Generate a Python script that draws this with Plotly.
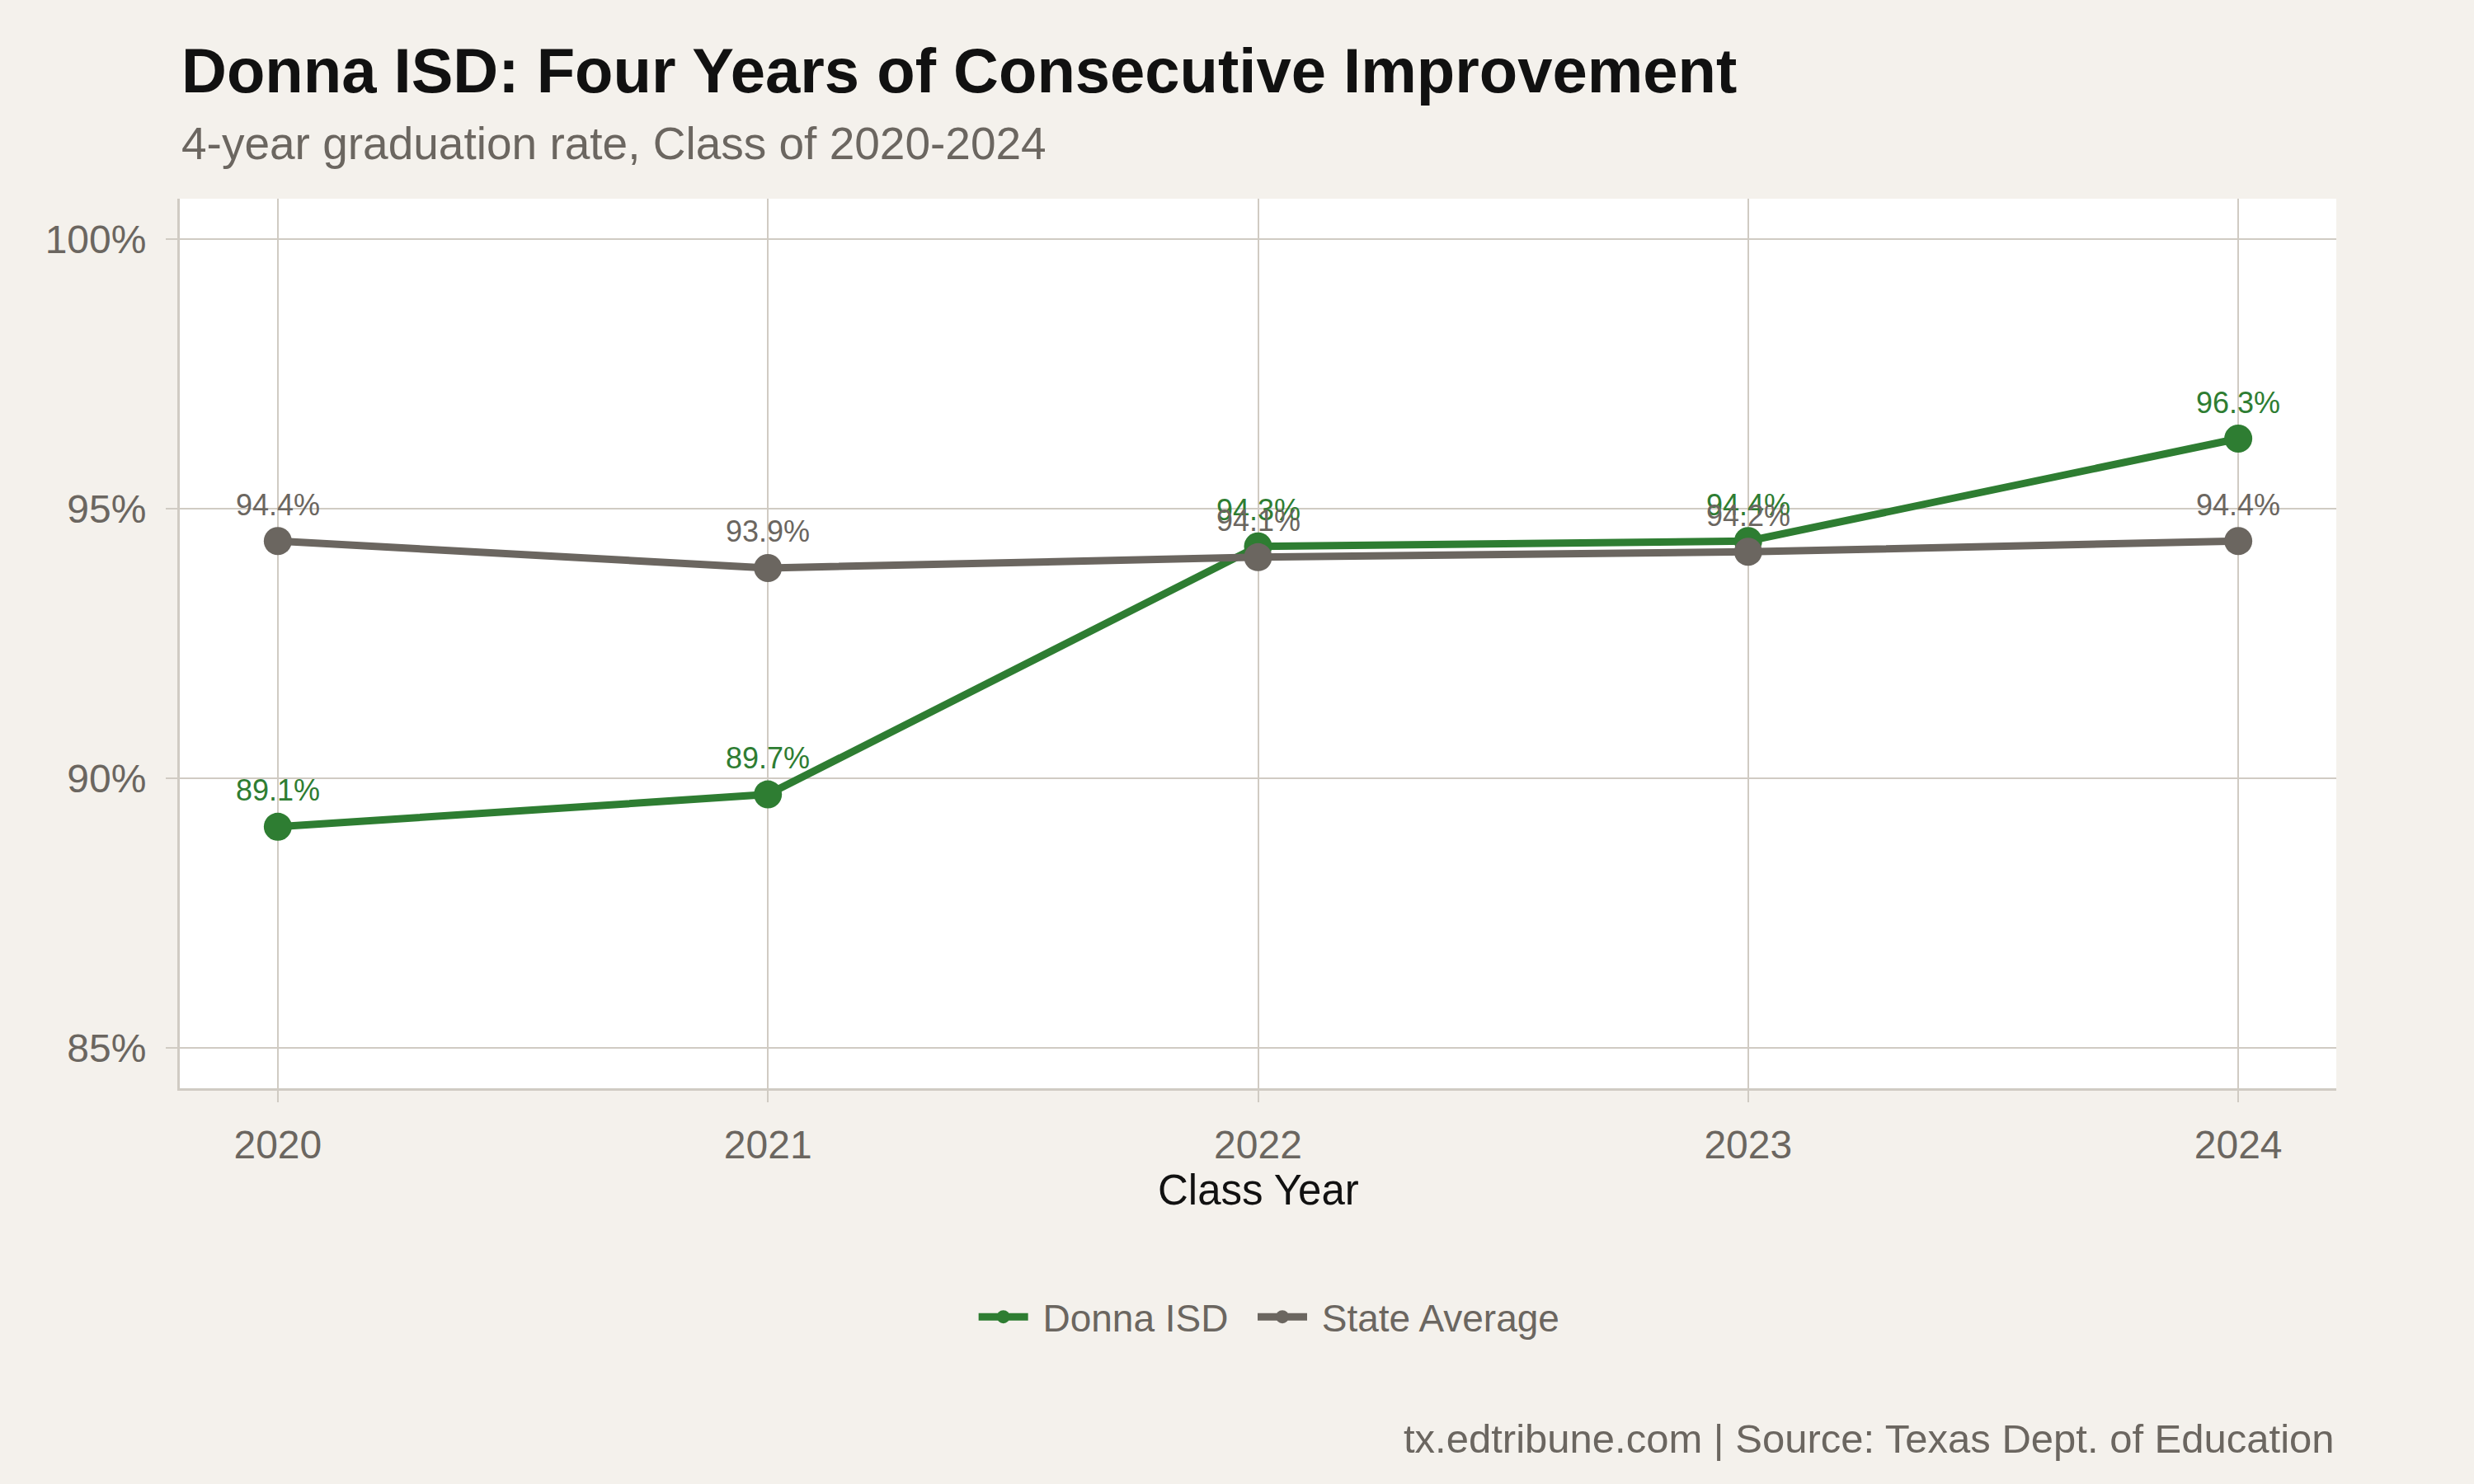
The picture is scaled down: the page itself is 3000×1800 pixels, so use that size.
import plotly.graph_objects as go

years = [2020, 2021, 2022, 2023, 2024]
donna = [89.1, 89.7, 94.3, 94.4, 96.3]
state = [94.4, 93.9, 94.1, 94.2, 94.4]
y_ticks = [85, 90, 95, 100]
y_tick_labels = ["85%", "90%", "95%", "100%"]

GREEN = "#2e7d32"
GRAY = "#6b6660"
GRID = "#d0cbc3"
PAPER = "#f4f1ec"
FONT = "Liberation Sans, Arial, Helvetica, sans-serif"
NB = "\u00a0"

fig = go.Figure()
for name, vals, color in [("Donna ISD", donna, GREEN), ("State Average", state, GRAY)]:
    fig.add_trace(go.Scatter(
        x=years, y=vals, name=NB + name + NB * 2, mode="lines+markers",
        line=dict(color=color, width=9),
        marker=dict(color=color, size=34),
    ))

annotations = []
for vals, color in [(donna, GREEN), (state, GRAY)]:
    for x, v in zip(years, vals):
        annotations.append(dict(
            x=x, y=v, xref="x", yref="y", text=f"{v:.1f}%", showarrow=False,
            yanchor="middle", xanchor="center", yshift=44,
            font=dict(family=FONT, size=36, color=color),
        ))

annotations += [
    dict(x=0, y=1.144, xref="paper", yref="paper", xanchor="left", yanchor="middle",
         text="<b>Donna ISD: Four Years of Consecutive Improvement</b>", showarrow=False,
         font=dict(family=FONT, size=76, color="#111111")),
    dict(x=0, y=1.062, xref="paper", yref="paper", xanchor="left", yanchor="middle",
         text="4-year graduation rate, Class of 2020-2024", showarrow=False,
         font=dict(family=FONT, size=55, color=GRAY)),
    dict(x=0.5, y=-0.114, xref="paper", yref="paper", xanchor="center", yanchor="middle",
         text="Class Year", showarrow=False,
         font=dict(family=FONT, size=51, color="#111111")),
    dict(x=1, y=-0.394, xref="paper", yref="paper", xanchor="right", yanchor="middle",
         text="tx.edtribune.com | Source: Texas Dept. of Education", showarrow=False,
         font=dict(family=FONT, size=49, color=GRAY)),
]

fig.update_layout(
    width=3000, height=1800,
    margin=dict(l=218, r=167, t=241, b=480),
    paper_bgcolor=PAPER, plot_bgcolor="white",
    font=dict(family=FONT, color=GRAY),
    showlegend=True,
    legend=dict(orientation="h", x=0.51, xanchor="center", y=-0.257, yanchor="middle",
                font=dict(family=FONT, size=46, color=GRAY), bgcolor="rgba(0,0,0,0)",
                itemwidth=60),
    annotations=annotations,
)
fig.update_xaxes(
    range=[2019.8, 2024.2], tickvals=years, ticktext=[str(y) for y in years],
    showgrid=True, gridcolor=GRID, gridwidth=2,
    showline=True, linecolor=GRID, linewidth=3,
    ticks="outside", ticklen=14, tickwidth=2, tickcolor=GRID,
    tickfont=dict(family=FONT, size=48, color=GRAY), ticklabelstandoff=10,
    zeroline=False,
)
fig.update_yaxes(
    range=[84.25, 100.75], tickvals=y_ticks, ticktext=y_tick_labels,
    showgrid=True, gridcolor=GRID, gridwidth=2,
    showline=True, linecolor=GRID, linewidth=3,
    ticks="outside", ticklen=14, tickwidth=2, tickcolor=GRID,
    tickfont=dict(family=FONT, size=48, color=GRAY), ticklabelstandoff=14,
    zeroline=False,
)

fig.write_html("out.html")
